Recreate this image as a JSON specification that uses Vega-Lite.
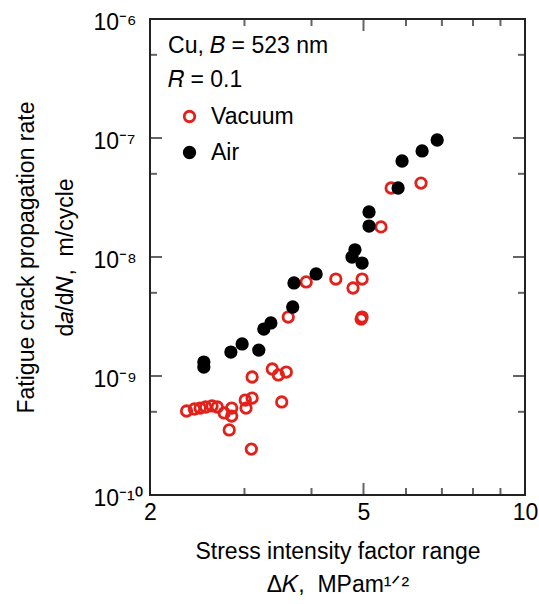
{
  "$schema": "https://vega.github.io/schema/vega-lite/v6.json",
  "width": 375,
  "height": 476,
  "autosize": "none",
  "padding": {"left": 150, "top": 19, "right": 14, "bottom": 109},
  "background": "white",
  "config": {
    "font": "Liberation Sans",
    "view": {"stroke": "#222", "strokeWidth": 2},
    "axis": {
      "domain": false, "ticks": false,
      "grid": false, "labelColor": "black", "titleColor": "black",
      "labelFont": "Liberation Sans", "titleFont": "Liberation Sans",
      "labelFontSize": 23, "titleFontSize": 23, "titleFontWeight": "normal",
      "labelOverlap": false, "labelBound": false, "labelFlush": false
    }
  },
  "datasets": {
    "points": [
      {"dK": 2.34, "rate": 5.08e-10, "env": "Vacuum"},
      {"dK": 2.42, "rate": 5.28e-10, "env": "Vacuum"},
      {"dK": 2.48, "rate": 5.38e-10, "env": "Vacuum"},
      {"dK": 2.54, "rate": 5.49e-10, "env": "Vacuum"},
      {"dK": 2.61, "rate": 5.60e-10, "env": "Vacuum"},
      {"dK": 2.67, "rate": 5.49e-10, "env": "Vacuum"},
      {"dK": 2.75, "rate": 4.89e-10, "env": "Vacuum"},
      {"dK": 2.84, "rate": 4.61e-10, "env": "Vacuum"},
      {"dK": 2.84, "rate": 5.38e-10, "env": "Vacuum"},
      {"dK": 2.81, "rate": 3.52e-10, "env": "Vacuum"},
      {"dK": 3.01, "rate": 6.28e-10, "env": "Vacuum"},
      {"dK": 3.02, "rate": 5.38e-10, "env": "Vacuum"},
      {"dK": 3.10, "rate": 6.53e-10, "env": "Vacuum"},
      {"dK": 3.10, "rate": 9.81e-10, "env": "Vacuum"},
      {"dK": 3.09, "rate": 2.43e-10, "env": "Vacuum"},
      {"dK": 3.38, "rate": 1.145e-9, "env": "Vacuum"},
      {"dK": 3.47, "rate": 1.02e-9, "env": "Vacuum"},
      {"dK": 3.59, "rate": 1.08e-9, "env": "Vacuum"},
      {"dK": 3.52, "rate": 6.05e-10, "env": "Vacuum"},
      {"dK": 3.62, "rate": 3.13e-9, "env": "Vacuum"},
      {"dK": 3.91, "rate": 6.17e-9, "env": "Vacuum"},
      {"dK": 4.44, "rate": 6.53e-9, "env": "Vacuum"},
      {"dK": 4.78, "rate": 5.49e-9, "env": "Vacuum"},
      {"dK": 4.97, "rate": 6.53e-9, "env": "Vacuum"},
      {"dK": 4.95, "rate": 3.01e-9, "env": "Vacuum"},
      {"dK": 4.97, "rate": 3.13e-9, "env": "Vacuum"},
      {"dK": 5.39, "rate": 1.79e-8, "env": "Vacuum"},
      {"dK": 5.63, "rate": 3.80e-8, "env": "Vacuum"},
      {"dK": 6.40, "rate": 4.18e-8, "env": "Vacuum"},
      {"dK": 2.52, "rate": 1.31e-9, "env": "Air"},
      {"dK": 2.52, "rate": 1.19e-9, "env": "Air"},
      {"dK": 2.83, "rate": 1.59e-9, "env": "Air"},
      {"dK": 2.97, "rate": 1.86e-9, "env": "Air"},
      {"dK": 3.19, "rate": 1.65e-9, "env": "Air"},
      {"dK": 3.26, "rate": 2.48e-9, "env": "Air"},
      {"dK": 3.36, "rate": 2.79e-9, "env": "Air"},
      {"dK": 3.69, "rate": 3.80e-9, "env": "Air"},
      {"dK": 3.71, "rate": 6.05e-9, "env": "Air"},
      {"dK": 4.08, "rate": 7.20e-9, "env": "Air"},
      {"dK": 4.76, "rate": 1.00e-8, "env": "Air"},
      {"dK": 4.82, "rate": 1.15e-8, "env": "Air"},
      {"dK": 4.97, "rate": 8.9e-9, "env": "Air"},
      {"dK": 5.12, "rate": 1.82e-8, "env": "Air"},
      {"dK": 5.12, "rate": 2.39e-8, "env": "Air"},
      {"dK": 5.80, "rate": 3.80e-8, "env": "Air"},
      {"dK": 5.90, "rate": 6.41e-8, "env": "Air"},
      {"dK": 6.43, "rate": 7.78e-8, "env": "Air"},
      {"dK": 6.86, "rate": 9.62e-8, "env": "Air"}
    ],
    "xticks": [
      {"v": 3, "kind": "minor"}, {"v": 4, "kind": "minor"}, {"v": 5, "kind": "major"},
      {"v": 6, "kind": "minor"}, {"v": 7, "kind": "minor"}, {"v": 8, "kind": "minor"}, {"v": 9, "kind": "minor"}
    ],
    "yticks": [
      {"v": 5e-10, "kind": "minor"}, {"v": 1e-9, "kind": "major"}, {"v": 5e-9, "kind": "minor"},
      {"v": 1e-8, "kind": "major"}, {"v": 5e-8, "kind": "minor"}, {"v": 1e-7, "kind": "major"}, {"v": 5e-7, "kind": "minor"}
    ]
  },
  "layer": [
    {
      "data": {"name": "points"},
      "mark": {"type": "point", "shape": "circle", "size": 110, "strokeWidth": 2.8, "opacity": 1},
      "encoding": {
        "x": {
          "field": "dK", "type": "quantitative",
          "scale": {"type": "log", "domain": [2, 10], "nice": false},
          "axis": {
            "orient": "bottom",
            "values": [2, 5, 10],
            "labelExpr": "datum.value == 2 ? '2' : datum.value == 5 ? '5' : datum.value == 10 ? '10' : ''",
            "labelPadding": 6,
            "title": ["Stress intensity factor range", "Δ𝐾,\u00a0\u00a0MPam¹ᐟ²"],
            "titleLineHeight": 33,
            "titlePadding": 16
          }
        },
        "y": {
          "field": "rate", "type": "quantitative",
          "scale": {"type": "log", "domain": [1e-10, 1e-6], "nice": false},
          "axis": {
            "orient": "left",
            "values": [1e-10, 1e-9, 1e-8, 1e-7, 1e-6],
            "labelExpr": "datum.value === 1e-6 ? '10⁻⁶' : datum.value === 1e-7 ? '10⁻⁷' : datum.value === 1e-8 ? '10⁻⁸' : datum.value === 1e-9 ? '10⁻⁹' : datum.value === 1e-10 ? '10⁻¹⁰' : ''",
            "labelAlign": "left",
            "labelPadding": 57,
            "labelOffset": 3,
            "title": ["Fatigue crack propagation rate", "d𝑎/d𝑁,\u00a0\u00a0m/cycle"],
            "titleLineHeight": 39,
            "titlePadding": 16
          }
        },
        "stroke": {
          "field": "env", "type": "nominal",
          "scale": {"domain": ["Vacuum", "Air"], "range": ["#e3211b", "#000000"]},
          "legend": {
            "orient": "none", "legendX": 28, "legendY": 86, "padding": 0, "title": null,
            "labelColor": "black",
            "labelFontSize": 23, "symbolSize": 110, "symbolStrokeWidth": 2.8,
            "labelOffset": 10, "rowPadding": 12, "symbolType": "circle"
          }
        },
        "fill": {
          "field": "env", "type": "nominal",
          "scale": {"domain": ["Vacuum", "Air"], "range": ["transparent", "#000000"]},
          "legend": {
            "orient": "none", "legendX": 28, "legendY": 86, "padding": 0, "title": null,
            "labelColor": "black",
            "labelFontSize": 23, "symbolSize": 110, "symbolStrokeWidth": 2.8,
            "labelOffset": 10, "rowPadding": 12, "symbolType": "circle"
          }
        }
      }
    },
    {
      "data": {"name": "xticks"},
      "mark": {"type": "tick", "orient": "vertical", "thickness": 2, "clip": true, "color": "#222"},
      "encoding": {
        "x": {"field": "v", "type": "quantitative", "scale": {"type": "log", "domain": [2, 10], "nice": false}, "axis": null},
        "y": {"datum": 1e-10, "type": "quantitative", "scale": {"type": "log", "domain": [1e-10, 1e-6], "nice": false}, "axis": null},
        "size": {"field": "kind", "type": "ordinal", "scale": {"domain": ["major", "minor"], "range": [24, 14]}, "legend": null}
      }
    },
    {
      "data": {"name": "xticks"},
      "mark": {"type": "tick", "orient": "vertical", "thickness": 2, "clip": true, "color": "#222"},
      "encoding": {
        "x": {"field": "v", "type": "quantitative", "scale": {"type": "log", "domain": [2, 10], "nice": false}, "axis": null},
        "y": {"datum": 1e-6, "type": "quantitative", "scale": {"type": "log", "domain": [1e-10, 1e-6], "nice": false}, "axis": null},
        "size": {"field": "kind", "type": "ordinal", "scale": {"domain": ["major", "minor"], "range": [24, 14]}, "legend": null}
      }
    },
    {
      "data": {"name": "yticks"},
      "mark": {"type": "tick", "orient": "horizontal", "thickness": 2, "clip": true, "color": "#222"},
      "encoding": {
        "y": {"field": "v", "type": "quantitative", "scale": {"type": "log", "domain": [1e-10, 1e-6], "nice": false}, "axis": null},
        "x": {"datum": 2, "type": "quantitative", "scale": {"type": "log", "domain": [2, 10], "nice": false}, "axis": null},
        "size": {"field": "kind", "type": "ordinal", "scale": {"domain": ["major", "minor"], "range": [24, 14]}, "legend": null}
      }
    },
    {
      "data": {"name": "yticks"},
      "mark": {"type": "tick", "orient": "horizontal", "thickness": 2, "clip": true, "color": "#222"},
      "encoding": {
        "y": {"field": "v", "type": "quantitative", "scale": {"type": "log", "domain": [1e-10, 1e-6], "nice": false}, "axis": null},
        "x": {"datum": 10, "type": "quantitative", "scale": {"type": "log", "domain": [2, 10], "nice": false}, "axis": null},
        "size": {"field": "kind", "type": "ordinal", "scale": {"domain": ["major", "minor"], "range": [24, 14]}, "legend": null}
      }
    },
    {
      "data": {"values": [{}]},
      "mark": {"type": "text", "align": "left", "baseline": "alphabetic", "font": "Liberation Sans", "fontSize": 23, "lineHeight": 34, "color": "black"},
      "encoding": {
        "x": {"datum": 2.161, "type": "quantitative", "axis": null},
        "y": {"datum": 5.18e-7, "type": "quantitative", "axis": null},
        "text": {"value": ["Cu, 𝐵 = 523 nm", "𝑅 = 0.1"]}
      }
    }
  ],
  "resolve": {"axis": {"x": "independent", "y": "independent"}}
}
